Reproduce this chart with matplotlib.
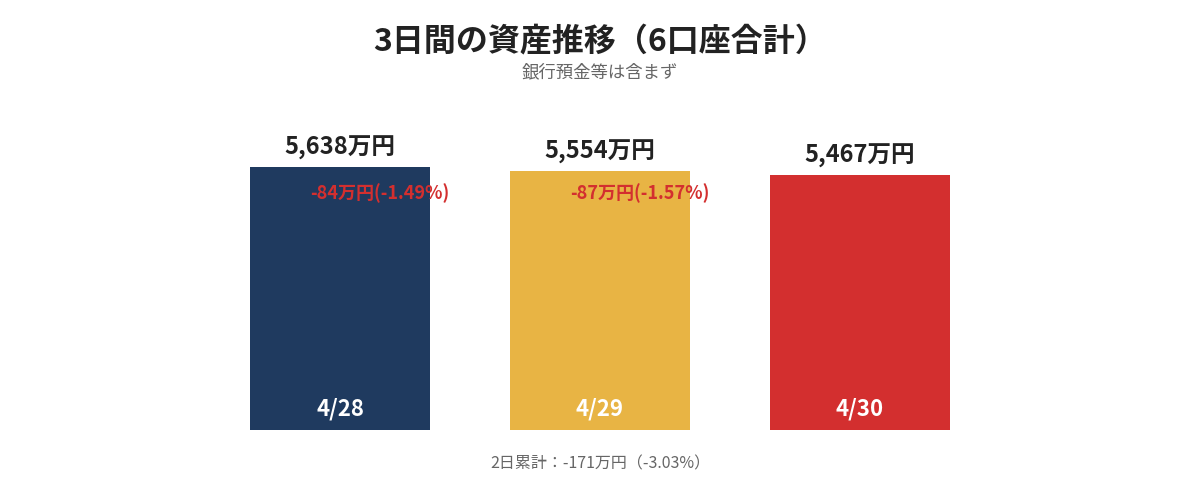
import matplotlib
matplotlib.use("Agg")
import matplotlib.pyplot as plt

plt.rcParams['font.family'] = ['Noto Sans CJK JP', 'DejaVu Sans']

dates = ["4/28", "4/29", "4/30"]
values = [5638, 5554, 5467]          # 万円
value_labels = ["5,638万円", "5,554万円", "5,467万円"]
change_labels = ["-84万円(-1.49%)", "-87万円(-1.57%)"]
colors = ["#1f3a5f", "#e8b444", "#d32f2f"]
title = "3日間の資産推移（6口座合計）"
subtitle = "銀行預金等は含まず"
footer = "2日累計：-171万円（-3.03%）"

fig = plt.figure(figsize=(12, 5), dpi=100)
ax = fig.add_axes([0, 0.14, 1, 0.653])
x = list(range(len(values)))
bars = ax.bar(x, values, width=180/260, color=colors)
ax.set_xlim(-340/260, 860/260)
ax.set_ylim(0, 7000)
ax.axis('off')

for xi, v, lab in zip(x, values, value_labels):
    ax.annotate(lab, (xi, v), xytext=(0, 19), textcoords='offset pixels',
                ha='center', va='center', fontsize=17, fontweight='bold', color='#222222')
for xi, d in zip(x, dates):
    ax.annotate(d, (xi, 0), xytext=(0, 21), textcoords='offset pixels',
                ha='center', va='center', fontsize=16, fontweight='bold', color='white')
for i, lab in enumerate(change_labels):
    ax.annotate(lab, (x[i], values[0]), xytext=(40, -26), textcoords='offset pixels',
                ha='center', va='center', fontsize=13, fontweight='bold', color='#d32f2f')

fig.text(0.5, 1 - 42/500, title, ha='center', va='center', fontsize=23, fontweight='bold', color='#222222')
fig.text(0.5, 1 - 72/500, subtitle, ha='center', va='center', fontsize=12.5, color='#666666')
fig.text(0.5, 1 - 464/500, footer, ha='center', va='center', fontsize=11.5, color='#666666')

fig.savefig("out.png", dpi=100)
